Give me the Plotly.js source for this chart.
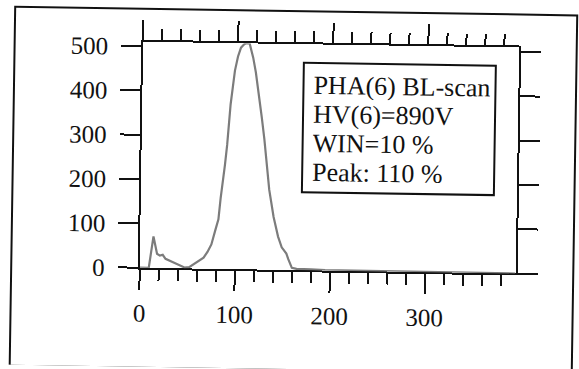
<!DOCTYPE html>
<html>
<head>
<meta charset="utf-8">
<script src="https://cdn.plot.ly/plotly-3.0.1.min.js"></script>
<style>
  html, body { margin: 0; padding: 0; background: #fff; overflow: hidden; }
  /* the printed figure sits at a slight angle */
  #chart { width: 579px; height: 369px; transform: rotate(0.88deg); transform-origin: 289.5px 184.5px; }
</style>
</head>
<body>
<div id="chart"></div>
<script>
// PHA(6) baseline scan: counts per discriminator channel
const channel = [0, 5, 9.5, 14, 18, 21, 24, 27, 32, 37, 42, 47, 52, 57, 62, 67, 71, 75, 79, 82,
  84, 86, 88, 90, 91, 93, 95, 97, 100, 103, 106, 108, 112, 114, 116, 119, 122, 126, 129, 132,
  135, 140, 145, 149, 152, 154, 156, 160, 165, 172, 180, 195, 215, 240, 270, 300, 330, 360, 395];
const counts = [0, 0, 0, 71, 32, 28, 30, 21, 16, 12, 6, 2, 3, 10, 16, 25, 38, 55, 88, 112,
  160, 195, 235, 280, 312, 372, 410, 448, 480, 500, 507, 510, 510, 496, 478, 445, 405, 343, 295, 240,
  180, 119, 75, 51, 41, 37, 25, 5, 3, 2, 2, 1, 1, 0, 0, 0, 0, 0, 0];

const xTicks = [0, 100, 200, 300];
const yTicks = [0, 100, 200, 300, 400, 500];
const infoLines = ['PHA(6) BL-scan', 'HV(6)=890V', 'WIN=10 %', 'Peak: 110 %'];

// page geometry (pixels) and helpers to express it in paper units
const W = 579, H = 369;
const M = { l: 141, r: 62, t: 44, b: 99 };
const PW = W - M.l - M.r, PH = H - M.t - M.b;
const px = x => (x - M.l) / PW;
const py = y => (H - M.b - y) / PH;

const ink = '#111';
const serif = '"Liberation Serif", "Times New Roman", serif';

const axisCommon = {
  showline: true, linewidth: 2, linecolor: ink,
  mirror: 'ticks', ticks: 'outside', ticklen: 20, tickwidth: 2, tickcolor: ink,
  showgrid: false, zeroline: false, layer: 'below traces',
  tickfont: { family: serif, size: 25, color: ink },
  tickmode: 'array'
};

const trace = {
  type: 'scatter', mode: 'lines',
  x: channel, y: counts,
  line: { color: '#7c7c7c', width: 2.2 },
  cliponaxis: false, hoverinfo: 'skip'
};

// one annotation per text line, evenly spaced rows
const firstRow = 84.5, rowStep = 29.2;
const annotations = infoLines.map((t, i) => ({
  xref: 'paper', yref: 'paper', x: px(310), y: py(firstRow + i * rowStep),
  xanchor: 'left', yanchor: 'middle', showarrow: false, align: 'left',
  height: 28, valign: 'middle',
  text: t, font: { family: serif, size: 26, color: ink }
}));

const layout = {
  width: W, height: H, margin: M,
  paper_bgcolor: '#fff', plot_bgcolor: '#fff',
  showlegend: false,
  xaxis: Object.assign({}, axisCommon, {
    range: [0, 395.5], tickvals: xTicks, ticktext: xTicks.map(String),
    ticklabelstandoff: 2,
    minor: { tickmode: 'linear', tick0: 0, dtick: 20, ticks: 'outside', ticklen: 11, tickwidth: 2, tickcolor: ink, showgrid: false }
  }),
  yaxis: Object.assign({}, axisCommon, {
    range: [0, 510], tickvals: yTicks, ticktext: yTicks.map(String),
    ticklabelstandoff: 8
  }),
  shapes: [
    // outer frame of the figure
    { type: 'rect', xref: 'paper', yref: 'paper', x0: px(12.5), x1: px(574.6), y0: py(370), y1: py(11),
      line: { color: ink, width: 2 }, fillcolor: 'rgba(0,0,0,0)', layer: 'above' },
    // info box
    { type: 'rect', xref: 'paper', yref: 'paper', x0: px(302), x1: px(494), y0: py(192), y1: py(62.5),
      line: { color: ink, width: 2 }, fillcolor: '#fff', layer: 'above' }
  ],
  annotations: annotations
};

Plotly.newPlot('chart', [trace], layout, { staticPlot: true, displayModeBar: false });
</script>
</body>
</html>
